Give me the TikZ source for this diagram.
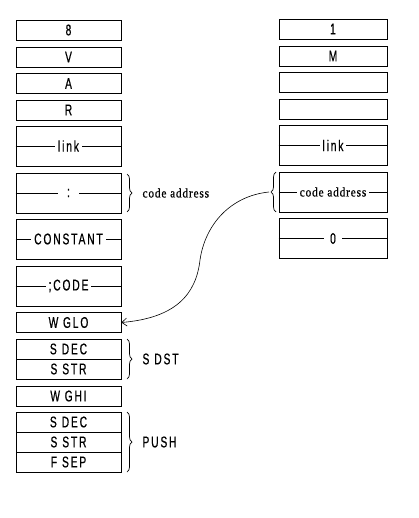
\documentclass[tikz,border=0pt]{standalone}
\usepackage{fontspec}
\setmainfont{Liberation Sans}[FakeStretch=0.66, LetterSpace=12, FakeBold=0.6]
\newfontfamily\codefont{Liberation Serif}[FakeStretch=0.88, LetterSpace=6, FakeBold=0.8]
\usetikzlibrary{arrows.meta,decorations.pathreplacing}
\begin{document}
\begin{tikzpicture}[x=1pt,y=-1pt,
  lw/.style={line width=0.7pt},
  fnt/.style={font=\fontsize{15.5}{15.5}\selectfont},
  cellL/.style={draw,lw,minimum width=105pt,minimum height=20pt,inner sep=0pt,fnt},
  cellR/.style={draw,lw,minimum width=108pt,minimum height=20pt,inner sep=0pt,fnt},
  tall/.style={minimum height=40pt},
  lab/.style={fill=white,inner xsep=3pt,inner ysep=1pt,fnt},
  brc/.style={lw,decorate,decoration={brace,amplitude=5pt}},
  side/.style={anchor=west,fnt},
  codetxt/.style={font=\codefont\fontsize{13}{13}\selectfont}
]
\useasboundingbox (0,0) rectangle (419,518);
% left column
\node[cellL] (l8) at (68.5,30) {8};
\node[cellL] (lV) at (68.5,57) {V};
\node[cellL] (lA) at (68.5,83.5) {A};
\node[cellL] (lR) at (68.5,110) {R};
\node[cellL,tall] (llink) at (68.5,146) {};
\draw[lw] (llink.west) -- (llink.east);
\node[lab] (llinkt) at (llink.center) {link};
\node[cellL,tall] (lcol) at (68.5,193) {};
\draw[lw] (lcol.west) -- (lcol.east);
\node[lab,inner xsep=9pt] (lcolt) at (lcol.center) {:};
\node[cellL,tall] (lconst) at (68.5,239) {};
\draw[lw] (lconst.west) -- (lconst.east);
\node[lab] (lconstt) at (lconst.center) {CONSTANT};
\node[cellL,tall] (lcode) at (68.5,286) {};
\draw[lw] (lcode.west) -- (lcode.east);
\node[lab] (lcodet) at (lcode.center) {;CODE};
\node[cellL] (lglo) at (68.5,322.5) {W GLO};
\node[cellL] (ldec1) at (68.5,349) {S\hspace{5pt}DEC};
\node[cellL] (lstr1) at (68.5,369) {S\hspace{5pt}STR};
\node[cellL] (lghi) at (68.5,396) {W GHI};
\node[cellL] (ldec2) at (68.5,422) {S\hspace{5pt}DEC};
\node[cellL] (lstr2) at (68.5,442) {S\hspace{5pt}STR};
\node[cellL] (lsep) at (68.5,462) {F\hspace{5pt}SEP};
% braces left
\draw[brc] (127,174) -- (127,212) coordinate[midway] (bca);
\node[side,codetxt] (tca) at (139,193) {code address};
\draw[brc] (127,339) -- (127,379);
\node[side] (tdst) at (139,359) {S\hspace{5pt}DST};
\draw[brc] (127,412) -- (127,472);
\node[side] (tpush) at (139,442) {PUSH};
% right column
\node[cellR] (r1) at (333,29) {1};
\node[cellR] (rM) at (333,56) {M};
\node[cellR] (rb1) at (333,82) {};
\node[cellR] (rb2) at (333,109) {};
\node[cellR,tall] (rlink) at (333,145.5) {};
\draw[lw] (rlink.west) -- (rlink.east);
\node[lab] (rlinkt) at (rlink.center) {link};
\node[cellR,tall] (rca) at (333,192) {};
\draw[lw] (rca.west) -- (rca.east);
\node[lab,codetxt] (rcat) at (rca.center) {code address};
\node[cellR,tall] (rzero) at (333,238.5) {};
\draw[lw] (rzero.west) -- (rzero.east);
\node[lab,inner xsep=6pt] (rzerot) at (rzero.center) {0};
% right brace
\draw[brc] (276,212) -- (276,172) coordinate[pos=0.5] (rbm);
\coordinate (rtip) at (269,192);
% curve
\draw[line width=0.6pt,-{Straight Barb[length=5pt,width=8pt]}] (rtip) .. controls (230,196) and (205,225) .. (200,260)
  .. controls (196,295) and (175,318) .. (lglo.east);
\end{tikzpicture}
\end{document}
